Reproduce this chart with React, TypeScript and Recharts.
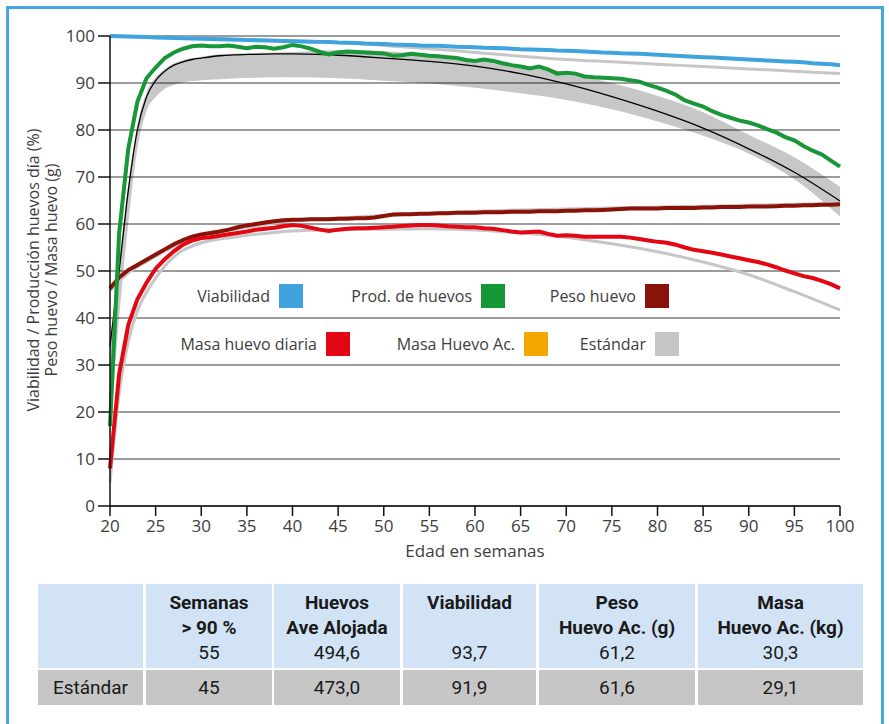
import { ComposedChart, Line, Area, XAxis, YAxis, CartesianGrid } from "recharts";

// ── Observed flock data (weekly) ──────────────────────────────────────────────

const WEEKS = [
  20, 21, 22, 23, 24, 25, 26, 27, 28, 29, 30, 31, 32, 33, 34, 35, 36, 37, 38, 39,
  40, 41, 42, 43, 44, 45, 46, 47, 48, 49, 50, 51, 52, 53, 54, 55, 56, 57, 58, 59,
  60, 61, 62, 63, 64, 65, 66, 67, 68, 69, 70, 71, 72, 73, 74, 75, 76, 77, 78, 79,
  80, 81, 82, 83, 84, 85, 86, 87, 88, 89, 90, 91, 92, 93, 94, 95, 96, 97, 98, 99, 100,
];

const VIABILIDAD = [
  100.0, 99.95, 99.9, 99.85, 99.8, 99.7, 99.65, 99.6, 99.5, 99.45, 99.4, 99.35, 99.3, 99.25, 99.2, 99.15, 99.1, 99.05, 99.0, 98.95,
  98.9, 98.85, 98.8, 98.75, 98.7, 98.6, 98.55, 98.5, 98.4, 98.35, 98.3, 98.2, 98.15, 98.1, 98.0, 97.95, 97.9, 97.8, 97.7, 97.65,
  97.6, 97.5, 97.45, 97.4, 97.3, 97.2, 97.15, 97.1, 97.0, 96.9, 96.85, 96.8, 96.7, 96.6, 96.5, 96.45, 96.35, 96.3, 96.2, 96.1,
  96.0, 95.9, 95.8, 95.7, 95.6, 95.5, 95.4, 95.3, 95.2, 95.1, 95.0, 94.9, 94.8, 94.7, 94.6, 94.5, 94.4, 94.2, 94.1, 94.0, 93.8,
];

const PRODUCCION = [
  17, 58, 76, 86, 91, 93.3, 95.3, 96.5, 97.3, 97.8, 98.0, 97.8, 97.8, 98.0, 97.7, 97.4, 97.7, 97.6, 97.3, 97.6,
  98.1, 97.8, 97.3, 96.6, 96.1, 96.5, 96.7, 96.6, 96.5, 96.4, 96.3, 95.8, 95.9, 96.2, 96.0, 95.8, 95.7, 95.5, 95.3, 94.9,
  94.7, 95.0, 94.7, 94.2, 93.8, 93.5, 93.1, 93.5, 92.9, 92.0, 92.2, 92.0, 91.4, 91.2, 91.1, 91.0, 90.9, 90.6, 90.3, 89.6,
  89.0, 88.3, 87.5, 86.3, 85.6, 85.0, 84.0, 83.2, 82.6, 82.0, 81.6, 81.0, 80.2, 79.5, 78.5, 77.8, 76.6, 75.6, 74.8, 73.5, 72.2,
];

const PESO_HUEVO = [
  46.3, 48.6, 50.2, 51.3, 52.4, 53.5, 54.6, 55.7, 56.6, 57.3, 57.8, 58.1, 58.4, 58.8, 59.3, 59.7, 60.0, 60.3, 60.6, 60.8,
  60.9, 60.9, 61.0, 61.0, 61.0, 61.1, 61.1, 61.2, 61.2, 61.4, 61.7, 62.0, 62.1, 62.1, 62.2, 62.2, 62.3, 62.3, 62.4, 62.4,
  62.4, 62.5, 62.5, 62.5, 62.6, 62.6, 62.6, 62.7, 62.7, 62.7, 62.8, 62.8, 62.9, 62.9, 63.0, 63.1, 63.2, 63.3, 63.3, 63.3,
  63.3, 63.4, 63.4, 63.4, 63.4, 63.5, 63.5, 63.6, 63.6, 63.6, 63.7, 63.7, 63.7, 63.8, 63.9, 63.9, 64.0, 64.0, 64.1, 64.1, 64.2,
];

const MASA_HUEVO = [
  8, 28, 38.5, 44, 47.5, 50.5, 52.5, 54.2, 55.6, 56.5, 57.0, 57.2, 57.5, 57.8, 58.1, 58.4, 58.8, 59.0, 59.2, 59.5,
  59.8, 59.6, 59.2, 58.8, 58.5, 58.8, 59.0, 59.1, 59.1, 59.2, 59.3, 59.4, 59.6, 59.7, 59.8, 59.8, 59.7, 59.5, 59.4, 59.3,
  59.3, 59.1, 59.0, 58.7, 58.4, 58.2, 58.3, 58.4, 57.9, 57.5, 57.6, 57.5, 57.3, 57.3, 57.3, 57.3, 57.3, 57.1, 56.8, 56.5,
  56.2, 56.0, 55.6, 55.0, 54.5, 54.2, 53.9, 53.5, 53.1, 52.7, 52.3, 51.9, 51.4, 50.8, 50.1, 49.5, 48.9, 48.5, 47.9, 47.2, 46.3,
];

// ── Breed standard ────────────────────────────────────────────────────────────

const STD_WEEKS = [20, 21, 22, 23, 24, 25, 26, 27, 28, 29, 30, 32, 34, 36, 38, 40, 45, 50, 55, 60, 65, 70, 75, 80, 85, 90, 95, 100];
const STD_VIABILIDAD = [100, 99.95, 99.9, 99.85, 99.8, 99.75, 99.7, 99.65, 99.6, 99.55, 99.5, 99.4, 99.3, 99.2, 99.1, 99.0, 98.6, 98.0, 97.3, 96.5, 95.7, 95.0, 94.5, 94.0, 93.5, 93.0, 92.5, 92.0];
const STD_PROD_LOW = [15, 40, 60, 76, 84, 87, 88.8, 89.6, 90.1, 90.4, 90.6, 90.8, 91.0, 91.1, 91.2, 91.2, 91.0, 90.5, 89.9, 89.0, 87.8, 86.4, 84.4, 81.8, 78.8, 75.0, 69.5, 61.6];
const STD_PROD_MID = [34, 50, 67, 80, 87, 90.5, 92.5, 93.8, 94.5, 95.0, 95.3, 95.8, 96.0, 96.1, 96.2, 96.2, 95.9, 95.3, 94.6, 93.6, 92.0, 89.8, 87.1, 84.0, 80.4, 76.0, 71.0, 64.9];
const STD_PROD_HIGH = [35, 52, 68.5, 81, 88, 91.2, 93.0, 94.2, 94.9, 95.3, 95.6, 96.1, 96.3, 96.4, 96.5, 96.6, 97.0, 96.8, 96.0, 95.0, 93.8, 92.3, 90.0, 87.3, 83.8, 79.0, 74.2, 67.9];
const STD_PESO = [45.8, 47.8, 49.6, 50.9, 52.0, 53.1, 54.2, 55.2, 56.1, 56.8, 57.4, 58.3, 59.0, 59.6, 60.2, 60.8, 61.3, 61.8, 62.3, 62.7, 63.0, 63.2, 63.4, 63.6, 63.8, 64.0, 64.2, 64.4];
const STD_MASA = [5, 24, 35, 41.5, 45.5, 48.5, 51, 53, 54.4, 55.3, 56.0, 56.8, 57.3, 57.8, 58.2, 58.5, 58.8, 58.9, 59.0, 58.7, 58.1, 57.2, 55.8, 54.1, 51.9, 49.2, 45.6, 41.7];

// ── Axes / legend / table text ────────────────────────────────────────────────

const X_TICKS = [20, 25, 30, 35, 40, 45, 50, 55, 60, 65, 70, 75, 80, 85, 90, 95, 100];
const Y_TICKS = [0, 10, 20, 30, 40, 50, 60, 70, 80, 90, 100];

const LEGEND_ROW_1 = [
  { label: "Viabilidad", color: "#3FA3DE", right: 303 },
  { label: "Prod. de huevos", color: "#179737", right: 505 },
  { label: "Peso huevo", color: "#8A1208", right: 669 },
];
const LEGEND_ROW_2 = [
  { label: "Masa huevo diaria", color: "#E30613", right: 350 },
  { label: "Masa Huevo Ac.", color: "#F5A700", right: 548 },
  { label: "Estándar", color: "#C6C6C6", right: 679 },
];

const TABLE_HEADERS = [
  [],
  ["Semanas", "> 90 %"],
  ["Huevos", "Ave Alojada"],
  ["Viabilidad"],
  ["Peso", "Huevo Ac. (g)"],
  ["Masa", "Huevo Ac. (kg)"],
];
const TABLE_RESULTS = ["", "55", "494,6", "93,7", "61,2", "30,3"];
const TABLE_STANDARD = ["Estándar", "45", "473,0", "91,9", "61,6", "29,1"];
const TABLE_COLS = [
  { left: 38, width: 105 },
  { left: 146, width: 126 },
  { left: 274, width: 126 },
  { left: 403, width: 133 },
  { left: 539, width: 156 },
  { left: 698, width: 165 },
];

const weekly = WEEKS.map((week, i) => ({
  week,
  viab: VIABILIDAD[i],
  prod: PRODUCCION[i],
  peso: PESO_HUEVO[i],
  masa: MASA_HUEVO[i],
}));

const standard = STD_WEEKS.map((week, i) => ({
  week,
  viab: STD_VIABILIDAD[i],
  band: [STD_PROD_LOW[i], STD_PROD_HIGH[i]],
  mid: STD_PROD_MID[i],
  peso: STD_PESO[i],
  masa: STD_MASA[i],
}));

const FONT = "'Open Sans', 'DejaVu Sans', sans-serif";
const TEXT = "#3d3d3d";
const tickStyle = { fill: TEXT, fontSize: 17, fontFamily: FONT };

function LegendItem({ label, color, right, top }: { label: string; color: string; right: number; top: number }) {
  return (
    <div
      style={{
        position: "absolute",
        right: 889 - right,
        top,
        height: 24,
        display: "flex",
        alignItems: "center",
        gap: 9,
        fontFamily: FONT,
        fontSize: 16,
        color: TEXT,
        whiteSpace: "nowrap",
      }}
    >
      <span>{label}</span>
      <span style={{ width: 24, height: 24, background: color, display: "inline-block" }} />
    </div>
  );
}

export default function App() {
  return (
    <div style={{ position: "relative", width: 889, height: 724, background: "#fff", overflow: "hidden" }}>
      <style>{`body{margin:0;overflow:hidden}`}</style>

      {/* outer frame */}
      <div
        style={{
          position: "absolute",
          left: 6,
          top: 6,
          width: 872,
          height: 800,
          border: "3px solid #45A7E0",
        }}
      />

      <div style={{ position: "absolute", left: 0, top: 0 }}>
        <ComposedChart width={889} height={580} margin={{ top: 36, right: 49, bottom: 44, left: 50 }}>
          <CartesianGrid horizontal vertical={false} stroke="#3a3a3a" strokeWidth={1.2} />
          <XAxis
            dataKey="week"
            type="number"
            domain={[20, 100]}
            ticks={X_TICKS}
            interval={0}
            height={30}
            tick={tickStyle}
            tickSize={10}
            tickMargin={4}
            axisLine={{ stroke: "#111", strokeWidth: 1.5 }}
            tickLine={{ stroke: "#111", strokeWidth: 1.5 }}
            allowDuplicatedCategory={false}
          />
          <YAxis
            type="number"
            domain={[0, 100]}
            ticks={Y_TICKS}
            interval={0}
            width={60}
            tick={tickStyle}
            tickSize={12}
            tickMargin={3}
            axisLine={{ stroke: "#111", strokeWidth: 1.5 }}
            tickLine={{ stroke: "#111", strokeWidth: 1.5 }}
          />

          {/* standard production range — translucent so the grid shows through */}
          <Area
            data={standard}
            dataKey="band"
            type="monotone"
            stroke="none"
            fill="#000"
            fillOpacity={0.22}
            isAnimationActive={false}
            activeDot={false}
          />
          <Line data={standard} dataKey="viab" type="monotone" stroke="#C6C6C6" strokeWidth={3} dot={false} activeDot={false} isAnimationActive={false} />
          <Line data={standard} dataKey="peso" type="monotone" stroke="#C6C6C6" strokeWidth={3} dot={false} activeDot={false} isAnimationActive={false} />
          <Line data={standard} dataKey="masa" type="monotone" stroke="#C6C6C6" strokeWidth={3} dot={false} activeDot={false} isAnimationActive={false} />
          <Line data={standard} dataKey="mid" type="monotone" stroke="#000" strokeWidth={1.3} dot={false} activeDot={false} isAnimationActive={false} />

          {/* observed flock */}
          <Line data={weekly} dataKey="viab" type="linear" stroke="#3FA3DE" strokeWidth={4} dot={false} activeDot={false} isAnimationActive={false} />
          <Line data={weekly} dataKey="peso" type="linear" stroke="#8A1208" strokeWidth={4} dot={false} activeDot={false} isAnimationActive={false} />
          <Line data={weekly} dataKey="masa" type="linear" stroke="#E30613" strokeWidth={4} dot={false} activeDot={false} isAnimationActive={false} />
          <Line data={weekly} dataKey="prod" type="linear" stroke="#179737" strokeWidth={4} dot={false} activeDot={false} isAnimationActive={false} />
        </ComposedChart>
      </div>

      {/* y-axis title */}
      {["Viabilidad / Producción huevos día (%)", "Peso huevo / Masa huevo (g)"].map((t, i) => (
        <div
          key={t}
          style={{
            position: "absolute",
            left: (i === 0 ? 33 : 51) - 200,
            top: 270 - 11,
            width: 400,
            height: 22,
            lineHeight: "22px",
            textAlign: "center",
            transform: "rotate(-90deg)",
            fontFamily: FONT,
            fontSize: 16,
            color: TEXT,
            whiteSpace: "nowrap",
          }}
        >
          {t}
        </div>
      ))}

      {/* x-axis title */}
      <div
        style={{
          position: "absolute",
          left: 375,
          top: 539,
          width: 200,
          textAlign: "center",
          fontFamily: FONT,
          fontSize: 17,
          color: TEXT,
        }}
      >
        Edad en semanas
      </div>

      {/* legend */}
      {LEGEND_ROW_1.map(l => (
        <LegendItem key={l.label} {...l} top={284} />
      ))}
      {LEGEND_ROW_2.map(l => (
        <LegendItem key={l.label} {...l} top={332} />
      ))}

      {/* summary table */}
      {TABLE_COLS.map((c, i) => (
        <div key={i}>
          <div
            style={{
              position: "absolute",
              left: c.left,
              top: 584,
              width: c.width,
              height: 84,
              background: "#D2E3F5",
              fontFamily: "Roboto, sans-serif",
              color: "#1a1a1a",
              textAlign: "center",
              fontSize: 19,
              lineHeight: "25px",
              paddingTop: 6,
              boxSizing: "border-box",
            }}
          >
            <div style={{ fontWeight: 700, height: 50 }}>
              {TABLE_HEADERS[i].map(h => (
                <div key={h}>{h}</div>
              ))}
            </div>
            <div>{TABLE_RESULTS[i]}</div>
          </div>
          <div
            style={{
              position: "absolute",
              left: c.left,
              top: 670,
              width: c.width,
              height: 35,
              lineHeight: "35px",
              background: "#C6C6C6",
              fontFamily: "Roboto, sans-serif",
              color: "#1a1a1a",
              textAlign: "center",
              fontSize: 19,
            }}
          >
            {TABLE_STANDARD[i]}
          </div>
        </div>
      ))}
    </div>
  );
}
